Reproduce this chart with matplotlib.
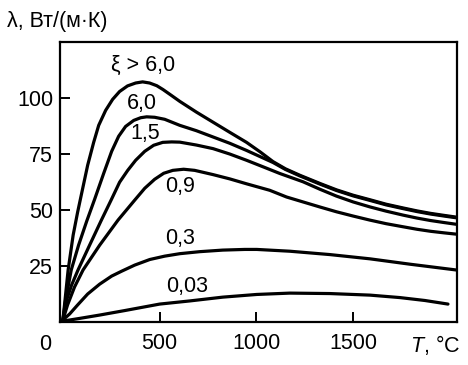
import matplotlib
matplotlib.use('Agg')
import matplotlib.pyplot as plt

plt.rcParams['font.family'] = ['Liberation Sans', 'DejaVu Sans']
plt.rcParams['mathtext.fontset'] = 'custom'
plt.rcParams['mathtext.rm'] = 'Liberation Sans'
plt.rcParams['mathtext.it'] = 'Liberation Sans:italic'

# curves: T in °C, lambda in W/(m*K)
t_xi_big = [0, 11, 27, 53, 76, 97, 128, 159, 185, 221, 257, 293, 334, 376, 412, 448, 485, 517, 560, 604, 690, 776, 862, 949, 1020, 1086, 1150, 1225, 1330, 1414, 1500, 1586, 1670, 1759, 1830, 1900, 1970, 2035]
l_xi_big = [0.9, 9.8, 23.2, 38.8, 49, 57.5, 70, 80.2, 87.8, 94.5, 99.4, 102.9, 105.4, 106.7, 107.2, 106.7, 105.5, 103.8, 101.2, 98.5, 93.7, 89.2, 84.7, 80.2, 75.9, 71.6, 68.4, 65.5, 61.8, 59.0, 56.6, 54.6, 52.6, 50.9, 49.6, 48.5, 47.6, 46.8]

t_xi_6 = [0, 14, 43, 81, 123, 164, 211, 252, 288, 324, 366, 402, 433, 474, 526, 604, 690, 776, 862, 949, 1020, 1086, 1150, 1225, 1330, 1414, 1500, 1586, 1670, 1759, 1830, 1900, 1970, 2035]
l_xi_6 = [0.9, 9.8, 23.2, 34.3, 45, 54.8, 66.4, 76.2, 82.9, 87.3, 90, 91.2, 91.6, 91.4, 90.5, 87.8, 85.4, 82.6, 79.8, 76.6, 73.8, 71.2, 68.1, 65.2, 61.5, 58.7, 56.3, 54.3, 52.3, 50.6, 49.3, 48.2, 47.3, 46.5]

t_xi_15 = [0, 19, 45, 78, 138, 199, 249, 293, 335, 376, 423, 469, 516, 562, 604, 690, 776, 862, 949, 1034, 1121, 1241, 1330, 1414, 1500, 1586, 1670, 1759, 1830, 1900, 1970, 2035]
l_xi_15 = [0.9, 9.8, 16.5, 23.2, 34.3, 45.5, 54.4, 62.4, 67.7, 72.2, 76.2, 78.9, 80.2, 80.4, 80.3, 79, 77.4, 75, 72.2, 69.3, 66.3, 62.6, 59.2, 56.2, 53.6, 51.4, 49.5, 47.7, 46.4, 45.3, 44.4, 43.6]

t_xi_09 = [0, 24, 60, 104, 190, 285, 371, 423, 474, 521, 568, 624, 681, 776, 862, 949, 1069, 1156, 1241, 1330, 1414, 1500, 1586, 1670, 1759, 1830, 1900, 1970, 2035]
l_xi_09 = [0.9, 7.6, 15.6, 23.2, 34.3, 45.5, 54.4, 59.7, 63.7, 66.4, 67.7, 68.2, 67.7, 65.8, 63.9, 61.7, 58.8, 55.8, 53.6, 51.3, 49.2, 47.3, 45.5, 43.9, 42.5, 41.4, 40.5, 39.8, 39.2]

t_xi_03 = [0, 35, 76, 128, 190, 252, 304, 371, 449, 526, 604, 707, 826, 940, 1002, 1173, 1380, 1587, 1794, 2035]
l_xi_03 = [0.9, 3.6, 7.6, 12.5, 16.9, 20.5, 22.7, 25.4, 27.9, 29.4, 30.5, 31.4, 32.1, 32.4, 32.4, 31.6, 30.1, 28.2, 25.8, 23.2]

t_xi_003 = [0, 86, 190, 319, 500, 655, 826, 1002, 1173, 1380, 1587, 1742, 1871, 1990]
l_xi_003 = [0.4, 1.6, 3.1, 5.1, 8.0, 9.4, 11.1, 12.3, 12.9, 12.7, 12, 10.9, 9.6, 8]

curve_labels = ['ξ > 6,0', '6,0', '1,5', '0,9', '0,3', '0,03']
label_pos = [(412, 114.5), (407, 97.6), (423, 84.2), (604, 60.6), (604, 37.4), (640, 16)]

x_ticks = [500, 1000, 1500]
y_ticks = [25, 50, 75, 100]

fig = plt.figure(figsize=(4.68, 3.65), dpi=100)
ax = fig.add_axes([0.1282, 0.1178, 0.8476, 0.7671])

for t, l in [(t_xi_big, l_xi_big), (t_xi_6, l_xi_6), (t_xi_15, l_xi_15),
             (t_xi_09, l_xi_09), (t_xi_03, l_xi_03), (t_xi_003, l_xi_003)]:
    ax.plot(t, l, color='black', lw=2.3, solid_capstyle='round', solid_joinstyle='round')

for txt, (x, y) in zip(curve_labels, label_pos):
    ax.text(x, y, txt, ha='center', va='center', fontsize=15.5)

ax.set_xlim(-15, 2035)
ax.set_ylim(0, 125)
ax.set_xticks(x_ticks)
ax.set_yticks(y_ticks)
ax.tick_params(direction='in', length=7, width=1.4, labelsize=15.5)
ax.tick_params(axis='x', pad=8)
ax.tick_params(axis='y', pad=5)
for s in ax.spines.values():
    s.set_linewidth(1.6)

fig.text(45 / 468, 1 - 345 / 365, '0', ha='center', va='center', fontsize=15.5)
fig.text(435 / 468, 1 - 345 / 365, '$T$, °C', ha='center', va='center', fontsize=15.5)
fig.text(7 / 468, 1 - 22 / 365, 'λ, Вт/(м·К)', ha='left', va='center', fontsize=15.5)

fig.savefig('out.png', dpi=100)
